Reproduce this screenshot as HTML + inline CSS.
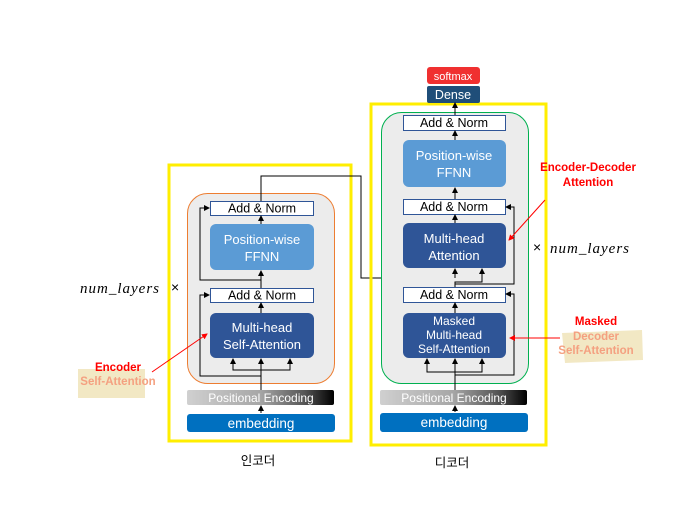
<!DOCTYPE html>
<html><head><meta charset="utf-8"><style>
html,body{margin:0;padding:0;background:#fff;}
svg{display:block;font-family:"Liberation Sans","Noto Sans CJK KR",sans-serif;}
</style></head><body>
<svg width="700" height="522" viewBox="0 0 700 522" xmlns="http://www.w3.org/2000/svg">
<defs>
<linearGradient id="pe" x1="0" x2="1" y1="0" y2="0">
<stop offset="0" stop-color="#d0d0d0"/><stop offset="0.5" stop-color="#a6a6a6"/><stop offset="0.8" stop-color="#555"/><stop offset="1" stop-color="#000"/>
</linearGradient>
<marker id="ar" markerWidth="6" markerHeight="6" refX="5" refY="3" orient="auto" markerUnits="userSpaceOnUse"><path d="M0,0 L6,3 L0,6 z" fill="#000"/></marker>
<marker id="rr" markerWidth="6" markerHeight="6" refX="5" refY="3" orient="auto" markerUnits="userSpaceOnUse"><path d="M0,0 L6,3 L0,6 z" fill="#f00"/></marker>
</defs>

<!-- Encoder -->
<rect x="169" y="165" width="182" height="276" fill="none" stroke="#ffee00" stroke-width="3"/>
<rect x="187.5" y="193.5" width="147" height="190" rx="20" fill="#ececec" stroke="#ed7d31" stroke-width="1"/>
<rect x="210.5" y="201.5" width="103" height="14" fill="#fff" stroke="#2f5597" stroke-width="1"/>
<text x="262" y="212.5" font-size="12.5" text-anchor="middle">Add &amp; Norm</text>
<rect x="210" y="224" width="104" height="46" rx="6" fill="#5b9bd5"/>
<text x="262" y="244" font-size="13" fill="#fff" text-anchor="middle">Position-wise</text>
<text x="262" y="261" font-size="13" fill="#fff" text-anchor="middle">FFNN</text>
<rect x="210.5" y="288.5" width="103" height="14" fill="#fff" stroke="#2f5597" stroke-width="1"/>
<text x="262" y="299.5" font-size="12.5" text-anchor="middle">Add &amp; Norm</text>
<rect x="210" y="313" width="104" height="45" rx="6" fill="#2f5597"/>
<text x="262" y="332" font-size="13" fill="#fff" text-anchor="middle">Multi-head</text>
<text x="262" y="349" font-size="13" fill="#fff" text-anchor="middle">Self-Attention</text>
<rect x="187" y="390" width="147" height="15" rx="2" fill="url(#pe)"/>
<text x="261" y="402" font-size="12" fill="#fff" text-anchor="middle">Positional Encoding</text>
<rect x="187" y="414" width="148" height="18" rx="3" fill="#0070c0"/>
<text x="261" y="428" font-size="13.5" fill="#fff" text-anchor="middle">embedding</text>
<g stroke="#000" stroke-width="1" fill="none">
<line x1="261" y1="413" x2="261" y2="406" marker-end="url(#ar)"/>
<line x1="261" y1="390" x2="261" y2="359" marker-end="url(#ar)"/>
<polyline points="233,359 233,370 290,370 290,359"/>
<line x1="233" y1="366" x2="233" y2="359" marker-end="url(#ar)"/>
<line x1="290" y1="366" x2="290" y2="359" marker-end="url(#ar)"/>
<polyline points="261,376 200,376 200,295 209,295" marker-end="url(#ar)"/>
<line x1="261" y1="313" x2="261" y2="303" marker-end="url(#ar)"/>
<line x1="261" y1="288" x2="261" y2="271" marker-end="url(#ar)"/>
<polyline points="261,280 200,280 200,208 209,208" marker-end="url(#ar)"/>
<line x1="261" y1="224" x2="261" y2="216" marker-end="url(#ar)"/>
<polyline points="261,201 261,176 361,176 361,278 455,278"/>
<line x1="427" y1="278" x2="427" y2="269" marker-end="url(#ar)"/>
</g>

<!-- Decoder -->
<rect x="371" y="104" width="175" height="341" fill="none" stroke="#ffee00" stroke-width="3"/>
<rect x="381.5" y="112.5" width="147" height="271" rx="20" fill="#ececec" stroke="#00b050" stroke-width="1"/>
<rect x="427" y="67" width="53" height="17" rx="3" fill="#f03030"/>
<text x="453" y="80" font-size="11" fill="#fff" text-anchor="middle">softmax</text>
<rect x="427" y="86" width="53" height="17" rx="2" fill="#1f4e79"/>
<text x="453" y="99" font-size="12.5" fill="#fff" text-anchor="middle">Dense</text>
<rect x="403.5" y="115.5" width="102" height="15" fill="#fff" stroke="#2f5597" stroke-width="1"/>
<text x="454" y="127" font-size="12.5" text-anchor="middle">Add &amp; Norm</text>
<rect x="403" y="140" width="103" height="47" rx="6" fill="#5b9bd5"/>
<text x="454" y="160" font-size="13" fill="#fff" text-anchor="middle">Position-wise</text>
<text x="454" y="177" font-size="13" fill="#fff" text-anchor="middle">FFNN</text>
<rect x="403.5" y="199.5" width="102" height="15" fill="#fff" stroke="#2f5597" stroke-width="1"/>
<text x="454" y="211" font-size="12.5" text-anchor="middle">Add &amp; Norm</text>
<rect x="403" y="223" width="103" height="45" rx="6" fill="#2f5597"/>
<text x="454" y="243" font-size="13" fill="#fff" text-anchor="middle">Multi-head</text>
<text x="454" y="260" font-size="13" fill="#fff" text-anchor="middle">Attention</text>
<rect x="403.5" y="287.5" width="102" height="15" fill="#fff" stroke="#2f5597" stroke-width="1"/>
<text x="454" y="299" font-size="12.5" text-anchor="middle">Add &amp; Norm</text>
<rect x="403" y="313" width="103" height="45" rx="6" fill="#2f5597"/>
<text x="454" y="325" font-size="12" fill="#fff" text-anchor="middle">Masked</text>
<text x="454" y="339" font-size="12" fill="#fff" text-anchor="middle">Multi-head</text>
<text x="454" y="353" font-size="12" fill="#fff" text-anchor="middle">Self-Attention</text>
<rect x="380" y="390" width="147" height="15" rx="2" fill="url(#pe)"/>
<text x="454" y="402" font-size="12" fill="#fff" text-anchor="middle">Positional Encoding</text>
<rect x="380" y="413" width="148" height="19" rx="3" fill="#0070c0"/>
<text x="454" y="427" font-size="13.5" fill="#fff" text-anchor="middle">embedding</text>
<g stroke="#000" stroke-width="1" fill="none">
<line x1="455" y1="412" x2="455" y2="406" marker-end="url(#ar)"/>
<line x1="455" y1="390" x2="455" y2="359" marker-end="url(#ar)"/>
<polyline points="427,359 427,372 482,372 482,359"/>
<line x1="427" y1="366" x2="427" y2="359" marker-end="url(#ar)"/>
<line x1="482" y1="366" x2="482" y2="359" marker-end="url(#ar)"/>
<polyline points="455,375 514,375 514,294 506,294" marker-end="url(#ar)"/>
<line x1="455" y1="313" x2="455" y2="303" marker-end="url(#ar)"/>
<polyline points="455,287 455,282 482,282 482,269" marker-end="url(#ar)"/>
<line x1="455" y1="278" x2="455" y2="269" marker-end="url(#ar)"/>
<polyline points="455,284 514,284 514,207 506,207" marker-end="url(#ar)"/>
<line x1="455" y1="223" x2="455" y2="215" marker-end="url(#ar)"/>
<line x1="455" y1="199" x2="455" y2="188" marker-end="url(#ar)"/>
<line x1="455" y1="140" x2="455" y2="131" marker-end="url(#ar)"/>
<line x1="455" y1="115" x2="455" y2="103" marker-end="url(#ar)"/>
</g>

<!-- layer labels -->
<text x="80" y="293" font-size="15" font-style="italic" letter-spacing="1" font-family="Liberation Serif, serif">num_layers</text>
<text x="171" y="292" font-size="14">×</text>
<text x="533" y="252" font-size="14">×</text>
<text x="550" y="253" font-size="15" font-style="italic" letter-spacing="1" font-family="Liberation Serif, serif">num_layers</text>

<!-- annotations -->
<rect x="78" y="369" width="67" height="29" fill="#f2e8c4"/>
<text x="118" y="371" font-size="11.5" font-weight="bold" fill="#f00" text-anchor="middle">Encoder</text>
<text x="118" y="385" font-size="11.5" font-weight="bold" fill="#f4a080" text-anchor="middle">Self-Attention</text>
<line x1="152" y1="372" x2="207" y2="334" stroke="#f00" stroke-width="1" marker-end="url(#rr)"/>

<text x="588" y="171" font-size="11.5" font-weight="bold" fill="#f00" text-anchor="middle">Encoder-Decoder</text>
<text x="588" y="186" font-size="11.5" font-weight="bold" fill="#f00" text-anchor="middle">Attention</text>
<line x1="545" y1="200" x2="509" y2="240" stroke="#f00" stroke-width="1" marker-end="url(#rr)"/>

<polygon points="562,333 642,330 643,360 565,363" fill="#f2e8c4"/>
<text x="596" y="325" font-size="11.5" font-weight="bold" fill="#f00" text-anchor="middle">Masked</text>
<text x="596" y="340" font-size="11.5" font-weight="bold" fill="#f4a080" text-anchor="middle">Decoder</text>
<text x="596" y="354" font-size="11.5" font-weight="bold" fill="#f4a080" text-anchor="middle">Self-Attention</text>
<line x1="560" y1="338" x2="510" y2="338" stroke="#f00" stroke-width="1" marker-end="url(#rr)"/>

<text x="258" y="465" font-size="12.5" text-anchor="middle">인코더</text>
<text x="452" y="467" font-size="12.5" text-anchor="middle">디코더</text>
</svg>
</body></html>
